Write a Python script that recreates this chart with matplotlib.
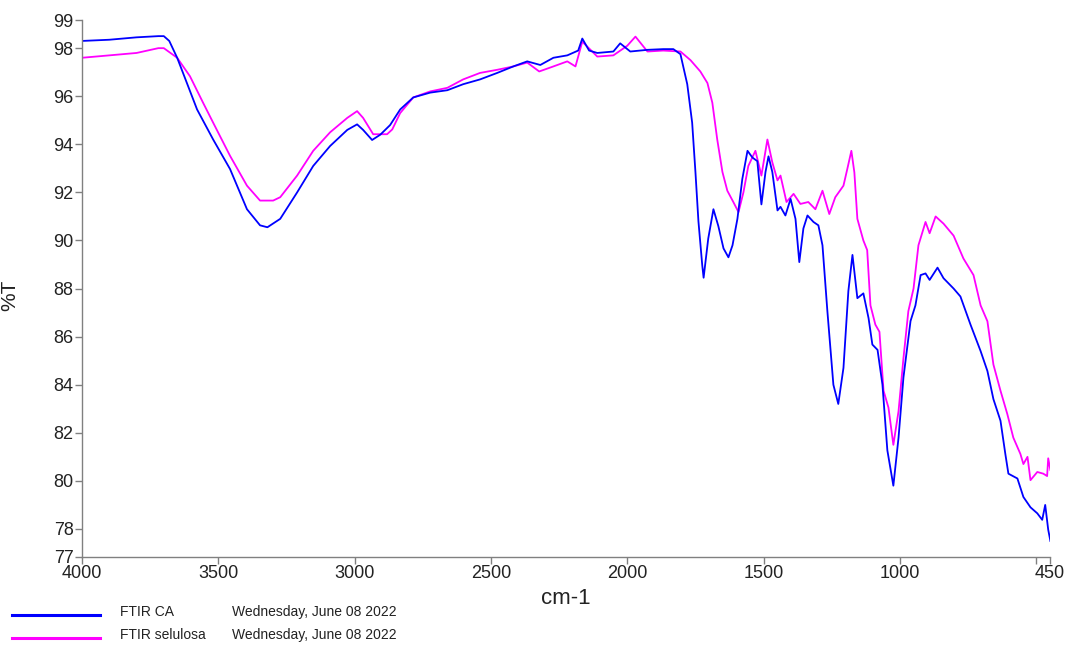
import matplotlib
matplotlib.use("Agg")
import matplotlib.pyplot as plt

plt.rcParams["font.family"] = ["Liberation Sans", "DejaVu Sans"]

# ── FTIR spectra (wavenumber cm-1, %T) ────────────────────────────
wn_ca = [4000, 3900, 3800, 3720, 3700, 3680, 3651, 3578, 3519, 3457, 3395, 3347,
         3320, 3273, 3211, 3152, 3090, 3027, 2991, 2969, 2936, 2906, 2870, 2833,
         2785, 2723, 2660, 2602, 2540, 2477, 2418, 2367, 2319, 2271, 2220, 2180,
         2165, 2140, 2110, 2051, 2026, 1989, 1926, 1868, 1831, 1805, 1780, 1762,
         1750, 1739, 1725, 1720, 1703, 1684, 1666, 1647, 1629, 1614, 1596, 1578,
         1559, 1541, 1523, 1508, 1493, 1482, 1468, 1449, 1438, 1420, 1401, 1383,
         1369, 1354, 1339, 1317, 1299, 1284, 1266, 1244, 1226, 1207, 1189, 1174,
         1156, 1134, 1115, 1101, 1082, 1064, 1046, 1024, 1005, 987, 961, 943,
         924, 906, 891, 862, 840, 803, 778, 741, 704, 679, 657, 631, 613, 602,
         569, 547, 521, 496, 478, 467, 456, 448]
t_ca = [98.3, 98.35, 98.45, 98.5, 98.5, 98.3, 97.6, 95.45, 94.2, 92.97, 91.3, 90.63,
        90.55, 90.9, 92.0, 93.1, 93.93, 94.6, 94.83, 94.6, 94.18, 94.4, 94.8, 95.45,
        95.95, 96.15, 96.25, 96.5, 96.7, 96.97, 97.24, 97.45, 97.3, 97.6, 97.7, 97.9,
        98.4, 97.9, 97.8, 97.86, 98.2, 97.86, 97.93, 97.96, 97.96, 97.75, 96.5, 94.9,
        92.85, 90.8, 88.97, 88.45, 90.08, 91.3, 90.6, 89.67, 89.3, 89.8, 90.9, 92.56,
        93.73, 93.45, 93.3, 91.5, 92.85, 93.5, 92.85, 91.25, 91.4, 91.04, 91.73, 90.9,
        89.1, 90.5, 91.04, 90.77, 90.63, 89.8, 87.06, 84.0, 83.2, 84.7, 87.9, 89.4,
        87.6, 87.8, 86.77, 85.67, 85.45, 84.0, 81.27, 79.8, 81.8, 84.3, 86.65, 87.3,
        88.56, 88.63, 88.36, 88.87, 88.43, 88.0, 87.67, 86.5, 85.4, 84.57, 83.4, 82.5, 81.1, 80.3,
        80.1, 79.33, 78.9, 78.65, 78.38, 79.0, 77.97, 77.5]

wn_sel = [4000, 3900, 3800, 3720, 3700, 3651, 3604, 3556, 3519, 3457, 3395, 3347,
          3299, 3273, 3211, 3152, 3090, 3027, 2991, 2969, 2932, 2881, 2862, 2833,
          2785, 2723, 2660, 2602, 2540, 2477, 2418, 2367, 2323, 2271, 2220, 2190,
          2165, 2110, 2051, 2000, 1970, 1926, 1868, 1805, 1768, 1732, 1706, 1688,
          1670, 1651, 1633, 1611, 1592, 1574, 1556, 1530, 1508, 1486, 1468, 1449,
          1438, 1416, 1390, 1365, 1336, 1310, 1284, 1259, 1237, 1207, 1193, 1178,
          1167, 1156, 1134, 1120, 1108, 1090, 1075, 1060, 1042, 1024, 1005, 987,
          969, 950, 932, 906, 891, 869, 840, 803, 767, 730, 704, 679, 657, 631,
          606, 584, 558, 547, 532, 521, 496, 474, 460, 456, 448]
t_sel = [97.6, 97.7, 97.8, 98.0, 98.0, 97.6, 96.83, 95.73, 94.9, 93.52, 92.28, 91.66,
         91.66, 91.8, 92.7, 93.73, 94.5, 95.1, 95.38, 95.1, 94.42, 94.42, 94.62, 95.3,
         95.95, 96.2, 96.35, 96.7, 96.97, 97.1, 97.24, 97.4, 97.03, 97.24, 97.45, 97.24,
         98.27, 97.65, 97.7, 98.1, 98.48, 97.86, 97.9, 97.86, 97.5, 97.03, 96.55, 95.73,
         94.2, 92.85, 92.07, 91.6, 91.18, 92.0, 93.1, 93.73, 92.7, 94.2, 93.25, 92.5,
         92.7, 91.6, 91.94, 91.52, 91.6, 91.3, 92.07, 91.1, 91.8, 92.28, 92.97, 93.73,
         92.83, 90.9, 90.0, 89.6, 87.3, 86.5, 86.2, 83.75, 83.05, 81.5, 82.9, 85.1,
         87.06, 88.0, 89.8, 90.77, 90.3, 91.0, 90.7, 90.2, 89.25, 88.56, 87.3, 86.64, 84.84, 83.75,
         82.78, 81.8, 81.12, 80.7, 81.0, 80.03, 80.37, 80.3, 80.2, 80.94, 80.45]

# axis end values (the instrument labels the ends 77 / 99 and 4000 / 450)
y_lo, y_hi = 76.84, 99.17
y_ticks = [78, 80, 82, 84, 86, 88, 90, 92, 94, 96, 98]
x_ticks = [4000, 3500, 3000, 2500, 2000, 1500, 1000, 500]
x_end = 450

series_names = ["FTIR CA", "FTIR selulosa"]
series_dates = ["Wednesday, June 08 2022", "Wednesday, June 08 2022"]
colors = ["#0000FF", "#FF00FF"]

fig = plt.figure(figsize=(10.68, 6.46), dpi=100)
ax = fig.add_axes([0.0768, 0.138, 0.9062, 0.831])

ax.plot(wn_sel, t_sel, color=colors[1], lw=1.3)
ax.plot(wn_ca, t_ca, color=colors[0], lw=1.3)

ax.set_xlim(4000, x_end)
ax.set_ylim(y_lo, y_hi)

ax.set_xticks(x_ticks + [x_end])
ax.set_xticklabels([str(v) for v in x_ticks[:-1]] + ["", str(x_end)])
ax.set_yticks([y_lo] + y_ticks + [y_hi])
ax.set_yticklabels(["77"] + [str(v) for v in y_ticks] + ["99"])

for side in ["top", "right"]:
    ax.spines[side].set_visible(False)
for side in ["left", "bottom"]:
    ax.spines[side].set_color("#808080")
    ax.spines[side].set_linewidth(1.0)
ax.tick_params(direction="out", length=5, width=1, color="#808080",
               labelsize=13, labelcolor="#222222", pad=1)

ax.set_xlabel("cm-1", fontsize=16, color="#222222", labelpad=4)
fig.text(0.009, 0.543, "%T", rotation=90, fontsize=15, color="#222222",
         ha="center", va="center")

# legend block under the plot
leg_y = [0.048, 0.0124]
for i in range(2):
    fig.add_artist(plt.Line2D([0.011, 0.094], [leg_y[i], leg_y[i]],
                              color=colors[i], lw=2.2, transform=fig.transFigure))
    fig.text(0.112, leg_y[i] + 0.004, series_names[i], fontsize=10,
             color="#222222", va="center")
    fig.text(0.217, leg_y[i] + 0.004, series_dates[i], fontsize=10,
             color="#222222", va="center")

plt.savefig("out.png", dpi=100)
